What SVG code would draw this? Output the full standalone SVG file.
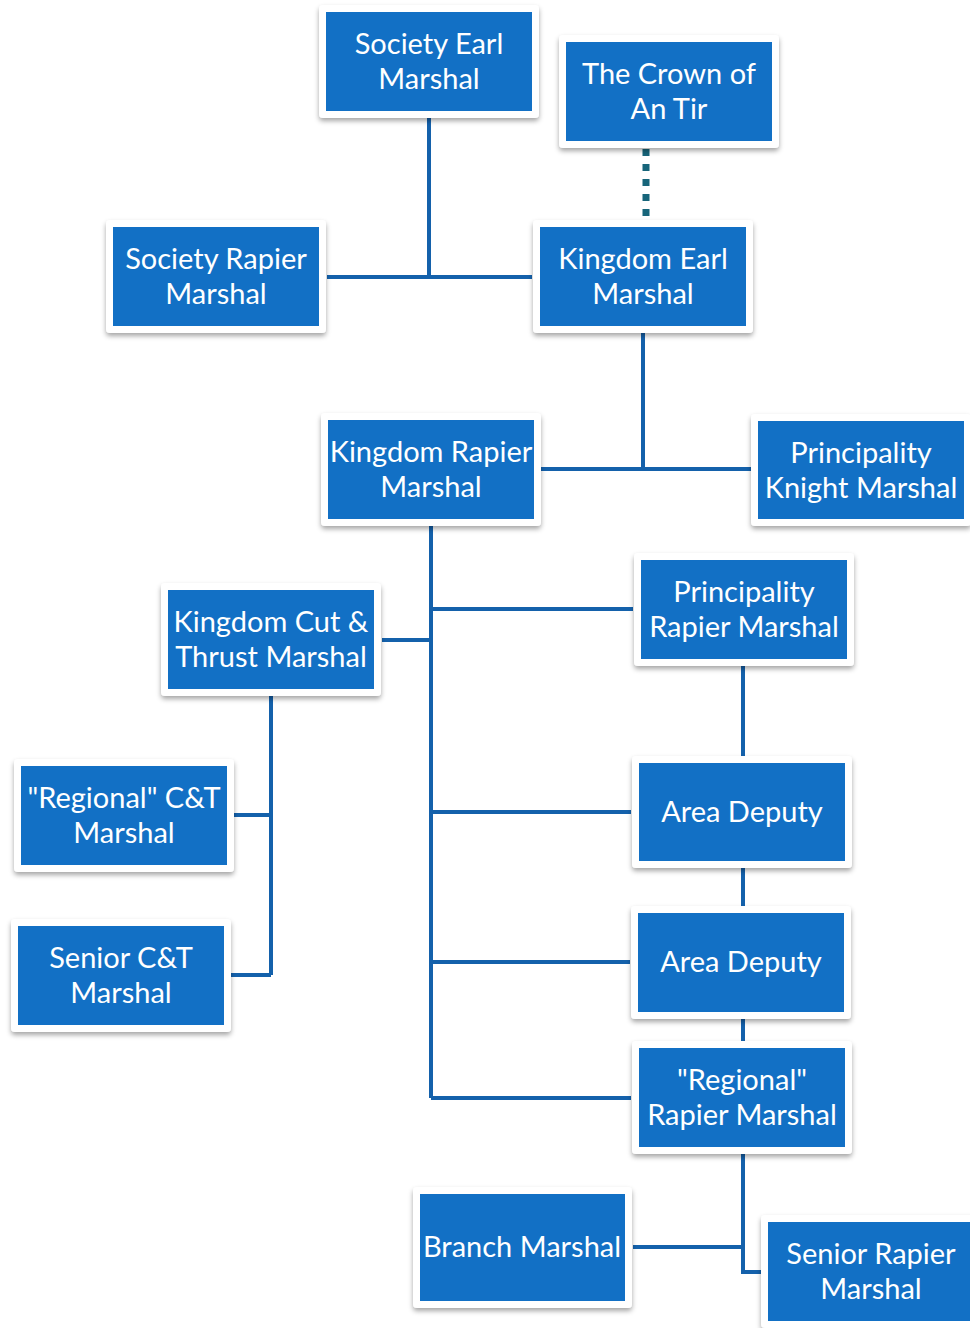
<svg xmlns="http://www.w3.org/2000/svg" width="970" height="1328" viewBox="0 0 970 1328">
<defs>
<filter id="sh" x="-10%" y="-10%" width="120%" height="130%">
<feDropShadow dx="0" dy="3" stdDeviation="2.5" flood-color="#000" flood-opacity="0.35"/>
</filter>
<style>
.frame{fill:#fff;filter:url(#sh)}
.box{fill:#1270C5}
.t{fill:#fff;font-family:Lato,"Open Sans","Liberation Sans",sans-serif;font-size:29px;text-anchor:middle;dominant-baseline:central}
.c{fill:none;stroke:#1461AB;stroke-width:4}
.d{fill:none;stroke:#17657A;stroke-width:7;stroke-dasharray:7 8}
</style>
</defs>
<rect width="970" height="1328" fill="#fff"/>
<g id="connectors">
<path class="c" d="M429,118V277M327,277H532"/>
<path class="d" d="M646,149V218"/>
<path class="c" d="M643,333V469M541,469H751"/>
<path class="c" d="M431,526V1098M431,609H633M382,640H431M431,812H631M431,962H630M431,1098H631"/>
<path class="c" d="M271,696V975M234,815H271M231,975H271"/>
<path class="c" d="M743,666V756M743,868V906M743,1019V1041"/>
<path class="c" d="M743,1154V1272H761M633,1247H743"/>
</g>
<g id="n1"><rect class="frame" x="319" y="5" width="220" height="113" rx="4"/><rect class="box" x="326" y="12" width="206" height="99"/><text class="t" x="429" y="42">Society Earl</text><text class="t" x="429" y="77">Marshal</text></g>
<g id="n2"><rect class="frame" x="559" y="35" width="220" height="113" rx="4"/><rect class="box" x="566" y="42" width="206" height="99"/><text class="t" x="669" y="72">The Crown of</text><text class="t" x="669" y="107">An Tir</text></g>
<g id="n3"><rect class="frame" x="106" y="220" width="220" height="113" rx="4"/><rect class="box" x="113" y="227" width="206" height="99"/><text class="t" x="216" y="257">Society Rapier</text><text class="t" x="216" y="292">Marshal</text></g>
<g id="n4"><rect class="frame" x="533" y="220" width="220" height="113" rx="4"/><rect class="box" x="540" y="227" width="206" height="99"/><text class="t" x="643" y="257">Kingdom Earl</text><text class="t" x="643" y="292">Marshal</text></g>
<g id="n5"><rect class="frame" x="321" y="413" width="220" height="113" rx="4"/><rect class="box" x="328" y="420" width="206" height="99"/><text class="t" x="431" y="450">Kingdom Rapier</text><text class="t" x="431" y="485">Marshal</text></g>
<g id="n6"><rect class="frame" x="751" y="414" width="220" height="112" rx="4"/><rect class="box" x="758" y="421" width="206" height="98"/><text class="t" x="861" y="451">Principality</text><text class="t" x="861" y="486">Knight Marshal</text></g>
<g id="n7"><rect class="frame" x="634" y="553" width="220" height="113" rx="4"/><rect class="box" x="641" y="560" width="206" height="99"/><text class="t" x="744" y="590">Principality</text><text class="t" x="744" y="625">Rapier Marshal</text></g>
<g id="n8"><rect class="frame" x="161" y="583" width="220" height="113" rx="4"/><rect class="box" x="168" y="590" width="206" height="99"/><text class="t" x="271" y="620">Kingdom Cut &amp;</text><text class="t" x="271" y="655">Thrust Marshal</text></g>
<g id="n9"><rect class="frame" x="14" y="759" width="220" height="113" rx="4"/><rect class="box" x="21" y="766" width="206" height="99"/><text class="t" x="124" y="796">"Regional" C&amp;T</text><text class="t" x="124" y="831">Marshal</text></g>
<g id="n10"><rect class="frame" x="11" y="919" width="220" height="113" rx="4"/><rect class="box" x="18" y="926" width="206" height="99"/><text class="t" x="121" y="956">Senior C&amp;T</text><text class="t" x="121" y="991">Marshal</text></g>
<g id="n11"><rect class="frame" x="632" y="756" width="220" height="112" rx="4"/><rect class="box" x="639" y="763" width="206" height="98"/><text class="t" x="742" y="810">Area Deputy</text></g>
<g id="n12"><rect class="frame" x="631" y="906" width="220" height="113" rx="4"/><rect class="box" x="638" y="913" width="206" height="99"/><text class="t" x="741" y="960">Area Deputy</text></g>
<g id="n13"><rect class="frame" x="632" y="1041" width="220" height="113" rx="4"/><rect class="box" x="639" y="1048" width="206" height="99"/><text class="t" x="742" y="1078">"Regional"</text><text class="t" x="742" y="1113">Rapier Marshal</text></g>
<g id="n14"><rect class="frame" x="413" y="1187" width="219" height="121" rx="4"/><rect class="box" x="420" y="1194" width="205" height="107"/><text class="t" x="522" y="1245">Branch Marshal</text></g>
<g id="n15"><rect class="frame" x="761" y="1215" width="220" height="113" rx="4"/><rect class="box" x="768" y="1222" width="206" height="99"/><text class="t" x="871" y="1252">Senior Rapier</text><text class="t" x="871" y="1287">Marshal</text></g>
</svg>
